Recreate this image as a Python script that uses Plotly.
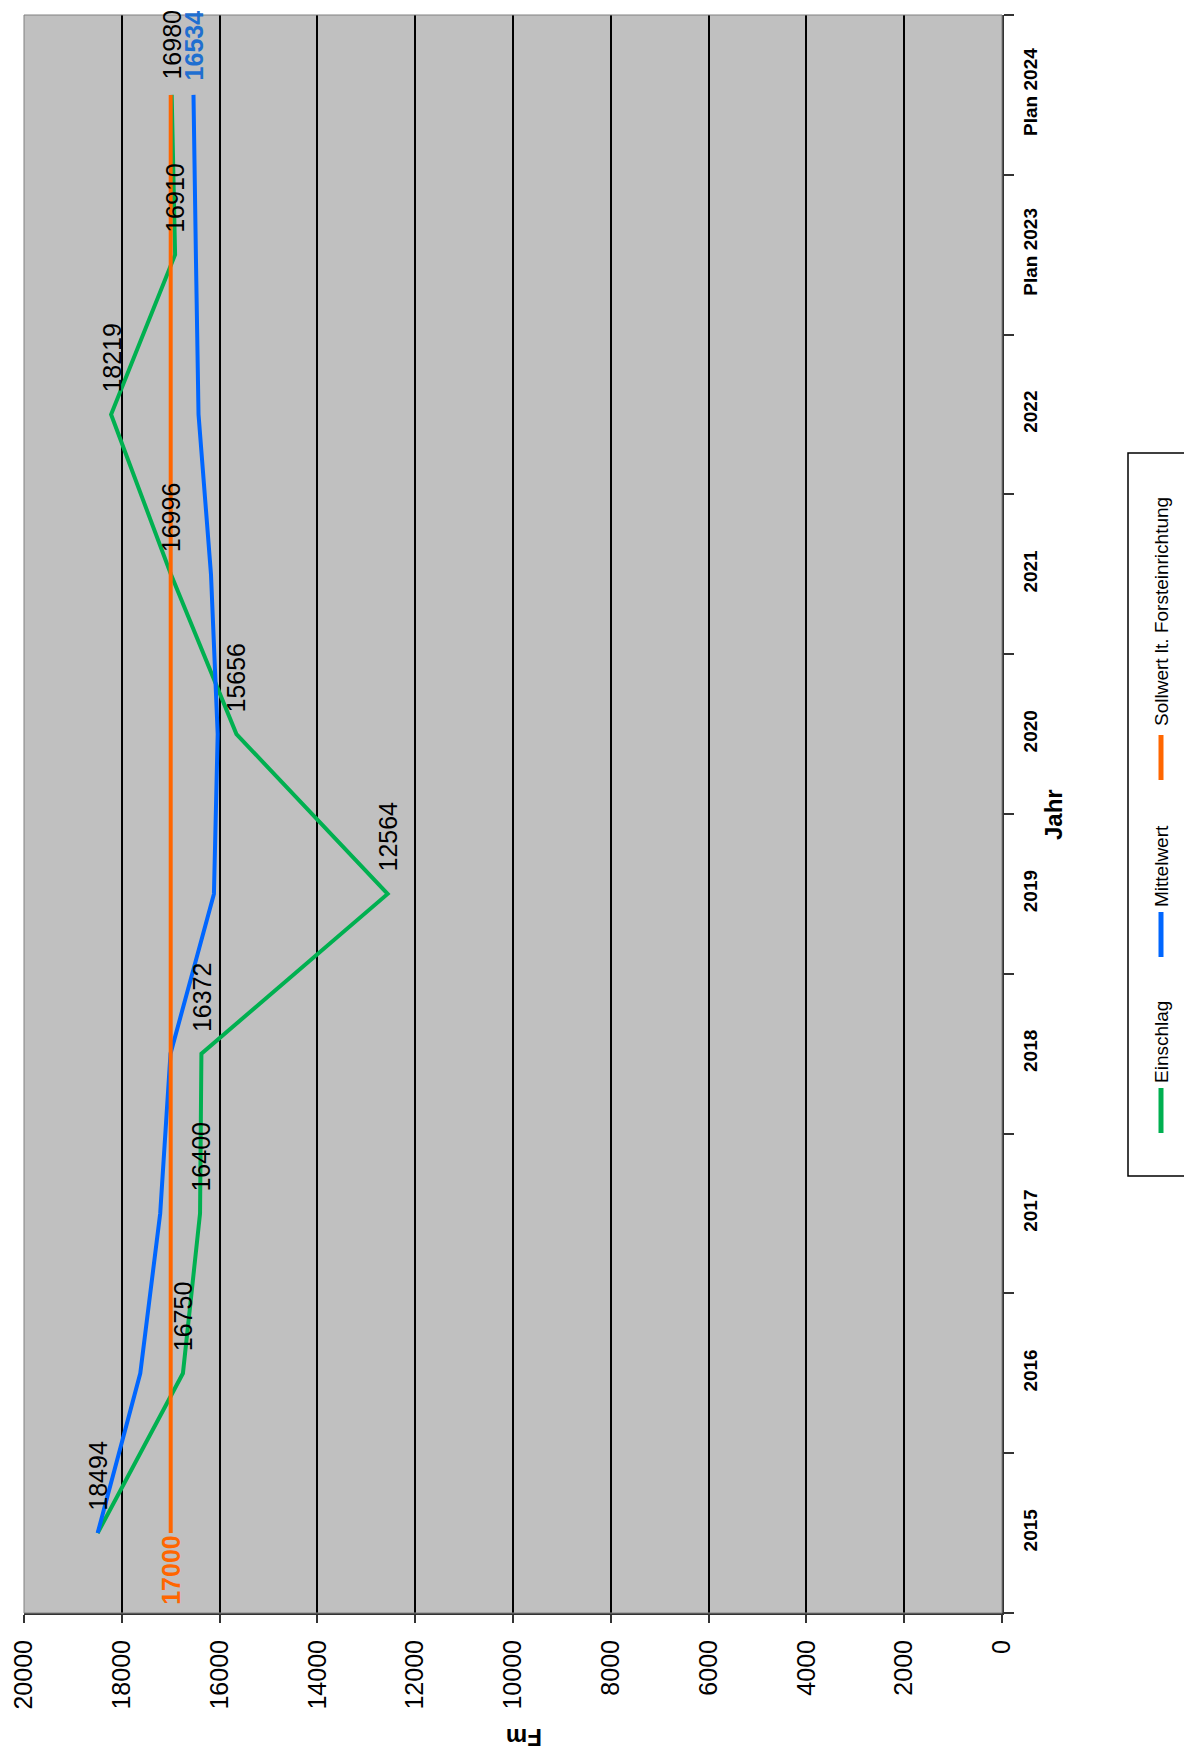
import plotly.graph_objects as go

# ---------------- data ----------------
jahre = ["2015", "2016", "2017", "2018", "2019", "2020", "2021", "2022", "Plan 2023", "Plan 2024"]
einschlag = [18494, 16750, 16400, 16372, 12564, 15656, 16996, 18219, 16910, 16980]
mittelwert = [18494, 17622, 17215, 17004, 16116, 16039, 16176, 16431, 16485, 16534]
sollwert = [17000, 17000, 17000, 17000, 17000, 17000, 17000, 17000, 17000, 17000]
fm_ticks = [0, 2000, 4000, 6000, 8000, 10000, 12000, 14000, 16000, 18000, 20000]

# ---------------- style ----------------
FONT = "Liberation Sans, Arial, sans-serif"
GREEN = "#00B050"
BLUE = "#0066FF"
ORANGE = "#FF6600"
BLUE_LABEL = "#1F6FD0"

W, H = 1192, 1762
OFFX, OFFY = 5, 8  # page body margin compensation
L, R, T, B = 21 - OFFX, 999 - OFFX, 15 - OFFY, 1613 - OFFY   # plot area in figure pixels


def px(xp):
    # xp: target screenshot x
    return (xp - OFFX - L) / (R - L)


def py(yp):
    return (B - (yp - OFFY)) / (B - T)


fig = go.Figure()
fig.add_trace(go.Scatter(x=einschlag, y=jahre, mode="lines", name="Einschlag",
                         line=dict(color=GREEN, width=4), showlegend=False))
fig.add_trace(go.Scatter(x=mittelwert, y=jahre, mode="lines", name="Mittelwert",
                         line=dict(color=BLUE, width=4), showlegend=False))
fig.add_trace(go.Scatter(x=sollwert, y=jahre, mode="lines", name="Sollwert lt. Forsteinrichtung",
                         line=dict(color=ORANGE, width=4), showlegend=False))

annotations = []
last = len(jahre) - 1
# data labels for Einschlag (category index used as y position)
for i, v in enumerate(einschlag):
    annotations.append(dict(x=v, y=i, xref="x", yref="y", text=str(v), showarrow=False,
                            textangle=-90, yshift=(50 if i == last else 57),
                            xanchor="center", yanchor="middle",
                            font=dict(family=FONT, size=25, color="#000000")))
# first Sollwert label
annotations.append(dict(x=sollwert[0], y=0, xref="x", yref="y",
                        text="<b>%d</b>" % sollwert[0], showarrow=False,
                        textangle=-90, yshift=-37, xanchor="center", yanchor="middle",
                        font=dict(family=FONT, size=25, color=ORANGE)))
# last Mittelwert label
annotations.append(dict(x=mittelwert[-1], y=last, xref="x", yref="y",
                        text="<b>%d</b>" % mittelwert[-1], showarrow=False,
                        textangle=-90, yshift=50, xanchor="center", yanchor="middle",
                        font=dict(family=FONT, size=25, color=BLUE_LABEL)))

# axis titles
annotations.append(dict(x=px(1050), y=py(815), xref="paper", yref="paper", text="<b>Jahr</b>",
                        showarrow=False, textangle=-90, xanchor="center", yanchor="middle",
                        font=dict(family=FONT, size=24, color="#000000")))
annotations.append(dict(x=px(521), y=py(1738), xref="paper", yref="paper", text="<b>Fm</b>",
                        showarrow=False, textangle=180, xanchor="center", yanchor="middle",
                        font=dict(family=FONT, size=24, color="#000000")))

# custom (rotated) legend
leg_items = [
    ("Sollwert lt. Forsteinrichtung", ORANGE, 735, 780, 612),
    ("Mittelwert", BLUE, 912, 957, 866),
    ("Einschlag", GREEN, 1088, 1133, 1042),
]
shapes = [
    # plot border (grey)
    dict(type="rect", xref="paper", yref="paper", x0=0, x1=1, y0=0, y1=1,
         line=dict(color="#808080", width=1), layer="above"),
    # legend box
    dict(type="rect", xref="paper", yref="paper", x0=px(1125), x1=px(1188),
         y0=py(1176), y1=py(453), line=dict(color="#000000", width=1.5),
         fillcolor="#FFFFFF"),
]
for name, col, y0, y1, yc in leg_items:
    shapes.append(dict(type="line", xref="paper", yref="paper", x0=px(1158), x1=px(1158),
                       y0=py(y1), y1=py(y0), line=dict(color=col, width=5)))
    annotations.append(dict(x=px(1158), y=py(yc), xref="paper", yref="paper", text=name,
                            showarrow=False, textangle=-90, xanchor="center", yanchor="middle",
                            font=dict(family=FONT, size=19, color="#000000")))

fig.update_layout(
    width=W, height=H, autosize=False,
    margin=dict(l=L, r=W - R, t=T, b=H - B, pad=0, autoexpand=False),
    paper_bgcolor="#FFFFFF", plot_bgcolor="#C0C0C0",
    showlegend=False,
    annotations=annotations, shapes=shapes,
    font=dict(family=FONT, color="#000000"),
)
fig.update_xaxes(
    automargin=False,
    range=[20000, 0], tickvals=fm_ticks, ticktext=[str(t) for t in fm_ticks],
    tickangle=-90, tickfont=dict(family=FONT, size=25, color="#000000"),
    ticks="outside", ticklen=8, tickwidth=2, tickcolor="#333333",
    ticklabelstandoff=7, ticklabeloverflow="allow",
    showgrid=True, gridcolor="#000000", gridwidth=2,
    zeroline=False, showline=True, linecolor="#333333", linewidth=2, mirror=False,
)
fig.update_yaxes(
    automargin=False,
    type="category", categoryorder="array", categoryarray=jahre,
    range=[-0.5, len(jahre) - 0.5], side="right",
    tickangle=-90, tickfont=dict(family=FONT, size=19, color="#000000", weight="bold"),
    ticks="outside", tickson="boundaries", ticklen=10, tickwidth=2, tickcolor="#333333",
    ticklabelstandoff=10,
    showgrid=False, zeroline=False, showline=True, linecolor="#333333", linewidth=2,
)

fig.write_html("out.html")
